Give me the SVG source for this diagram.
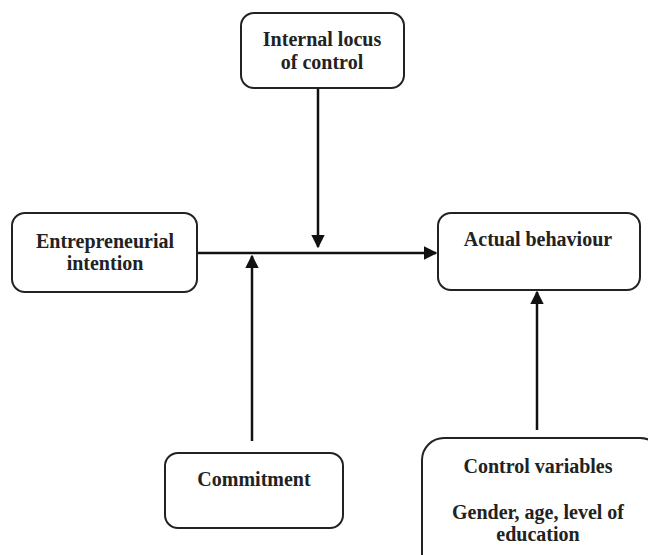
<svg xmlns="http://www.w3.org/2000/svg" width="648" height="555" viewBox="0 0 648 555">
<style>
.box{fill:#fff;stroke:#222;stroke-width:2}
.t{font-family:"Liberation Serif","Times New Roman",serif;font-weight:bold;font-size:20px;fill:#222;text-anchor:middle}
.c{stroke:#111;stroke-width:2.5;fill:none}
</style>
<defs>
<marker id="ah" viewBox="0 0 10 10" refX="9" refY="5" markerWidth="5.5" markerHeight="5.5" orient="auto" markerUnits="strokeWidth">
<path d="M0,0 L10,5 L0,10 z" fill="#111"/>
</marker>
</defs>
<rect width="648" height="555" fill="#fff"/>
<g id="connectors">
<line class="c" x1="198" y1="253" x2="436" y2="253" marker-end="url(#ah)"/>
<line class="c" x1="318" y1="88" x2="318" y2="247" marker-end="url(#ah)"/>
<line class="c" x1="252" y1="441" x2="252" y2="256" marker-end="url(#ah)"/>
<line class="c" x1="537" y1="430" x2="537" y2="292" marker-end="url(#ah)"/>
</g>
<g id="internal-locus">
<rect class="box" x="241" y="13" width="163" height="75" rx="13"/>
<text class="t" x="322" y="46">Internal locus</text>
<text class="t" x="322" y="69">of control</text>
</g>
<g id="entrepreneurial-intention">
<rect class="box" x="12" y="213" width="185" height="79" rx="13"/>
<text class="t" x="105" y="248">Entrepreneurial</text>
<text class="t" x="105" y="270">intention</text>
</g>
<g id="actual-behaviour">
<rect class="box" x="438" y="213" width="202" height="77" rx="13"/>
<text class="t" x="538" y="246">Actual behaviour</text>
</g>
<g id="commitment">
<rect class="box" x="165" y="453" width="178" height="75" rx="13"/>
<text class="t" x="254" y="486">Commitment</text>
</g>
<g id="control-variables">
<rect class="box" x="422" y="438" width="240" height="140" rx="22"/>
<text class="t" x="538" y="473">Control variables</text>
<text class="t" x="538" y="519">Gender, age, level of</text>
<text class="t" x="538" y="541">education</text>
</g>
</svg>
